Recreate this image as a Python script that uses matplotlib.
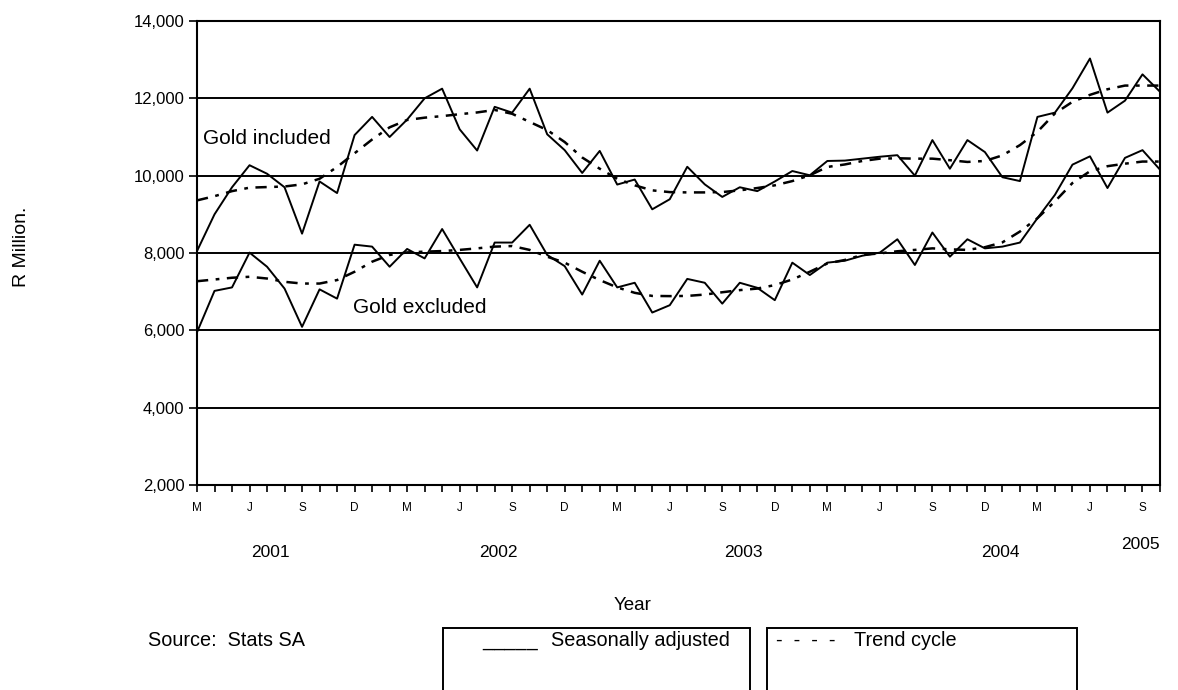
import matplotlib
matplotlib.use("Agg")
import matplotlib.pyplot as plt
from matplotlib.patches import Rectangle
from matplotlib.ticker import FixedLocator, FuncFormatter

plt.rcParams['font.family'] = ['Liberation Sans', 'DejaVu Sans']

# Monthly, March 2001 .. October 2005 (56 months), R million
gold_incl_sa = [8050, 9000, 9700, 10270, 10050, 9700, 8500, 9850, 9550, 11050,
                11520, 11000, 11450, 12000, 12250, 11200, 10650, 11780, 11630, 12250,
                11070, 10660, 10070, 10640, 9770, 9900, 9130, 9390, 10230, 9775,
                9450, 9700, 9600, 9850, 10120, 10010, 10380, 10390, 10440, 10490,
                10530, 10000, 10920, 10180, 10920, 10610, 9960, 9860, 11520, 11630,
                12260, 13030, 11630, 11940, 12620, 12170]
gold_incl_trend = [9360, 9470, 9600, 9690, 9705, 9720, 9775, 9920, 10225, 10580,
                   10935, 11250, 11440, 11500, 11540, 11590, 11635, 11700, 11600, 11390,
                   11180, 10870, 10470, 10180, 9920, 9750, 9620, 9575, 9567, 9567,
                   9576, 9620, 9680, 9750, 9860, 10010, 10225, 10290, 10380, 10440,
                   10450, 10440, 10440, 10400, 10355, 10380, 10525, 10790, 11135, 11610,
                   11910, 12090, 12235, 12330, 12330, 12330]
gold_excl_sa = [5950, 7020, 7110, 8010, 7645, 7080, 6090, 7060, 6820, 8215,
                8165, 7645, 8105, 7860, 8620, 7860, 7110, 8270, 8270, 8730,
                7950, 7660, 6925, 7800, 7110, 7230, 6460, 6650, 7330, 7230,
                6690, 7230, 7100, 6780, 7750, 7430, 7750, 7800, 7930, 8010,
                8355, 7690, 8530, 7905, 8355, 8120, 8165, 8270, 8900, 9505,
                10285, 10500, 9680, 10460, 10660, 10155]
gold_excl_trend = [7270, 7315, 7360, 7385, 7340, 7255, 7210, 7210, 7300, 7515,
                   7775, 7950, 8015, 8035, 8050, 8080, 8120, 8165, 8180, 8080,
                   7905, 7750, 7515, 7300, 7110, 6970, 6890, 6885, 6890, 6925,
                   6985, 7040, 7080, 7170, 7315, 7515, 7730, 7820, 7950, 7990,
                   8045, 8080, 8120, 8095, 8080, 8150, 8275, 8555, 8900, 9335,
                   9810, 10115, 10245, 10310, 10365, 10365]

month_tick_labels = ['M', 'J', 'S', 'D'] * 4 + ['M', 'J', 'S']
year_labels = ['2001', '2002', '2003', '2004', '2005']
year_pos = [4.2, 17.2, 31.2, 45.9, 53.9]
y_ticks = [2000, 4000, 6000, 8000, 10000, 12000, 14000]

months = list(range(len(gold_incl_sa)))

fig = plt.figure(figsize=(11.78, 6.90), dpi=100)
ax = fig.add_axes([197/1178, 1 - 485/690, (1160-197)/1178, (485-21)/690])

for yv in y_ticks:
    ax.axhline(yv, color='black', lw=1.4, zorder=1)

trend_style = dict(color='black', lw=1.8, dashes=(4.5, 3.0, 1.5, 3.0), zorder=3)
ax.plot(months, gold_incl_trend, **trend_style)
ax.plot(months, gold_excl_trend, **trend_style)
ax.plot(months, gold_incl_sa, color='black', lw=1.4, zorder=4)
ax.plot(months, gold_excl_sa, color='black', lw=1.4, zorder=4)

ax.set_xlim(0, len(months) - 1)
ax.set_ylim(2000, 14000)
ax.set_yticks(y_ticks)
ax.yaxis.set_major_formatter(FuncFormatter(lambda v, p: f"{int(v):,}"))
ax.tick_params(axis='y', direction='out', length=6, width=1.2, labelsize=12, pad=3)

major_x = list(range(0, 3 * len(month_tick_labels), 3))
ax.set_xticks(major_x)
ax.set_xticklabels(month_tick_labels)
ax.xaxis.set_minor_locator(FixedLocator(months))
ax.tick_params(axis='x', which='both', direction='out', length=5, width=1.2,
               labelsize=8.5, pad=7)

for s in ax.spines.values():
    s.set_linewidth(1.5)
    s.set_color('black')

for lab, xp in zip(year_labels, year_pos):
    yy = -0.145 if lab != '2005' else -0.128
    ax.text(xp, yy, lab, transform=ax.get_xaxis_transform(), ha='center',
            va='center', fontsize=12.5)

ax.text(0.35, 10970, 'Gold included', ha='left', va='center', fontsize=15)
ax.text(8.9, 6600, 'Gold excluded', ha='left', va='center', fontsize=15)

fig.text(633/1178, 1 - 605/690, 'Year', ha='center', va='center', fontsize=13.5)
fig.text(22/1178, 1 - 247/690, 'R Million.', rotation=90, ha='center',
         va='center', fontsize=14)
fig.text(148/1178, 1 - 641/690, 'Source:  Stats SA', ha='left', va='center',
         fontsize=14.3)

for (x0, x1) in [(443, 750), (767, 1077)]:
    fig.patches.append(Rectangle((x0/1178, -0.05), (x1-x0)/1178,
                                 0.05 + 1 - 628/690, transform=fig.transFigure,
                                 fill=False, lw=1.4, edgecolor='black'))
fig.text(482/1178, 1 - 641/690, '_____', ha='left', va='center', fontsize=14.3)
fig.text(551/1178, 1 - 641/690, 'Seasonally adjusted', ha='left', va='center', fontsize=14.3)
fig.text(776/1178, 1 - 641/690, '-  -  -  -', ha='left', va='center', fontsize=14.3)
fig.text(854/1178, 1 - 641/690, 'Trend cycle', ha='left', va='center', fontsize=14.3)

fig.savefig('out.png', dpi=100)
